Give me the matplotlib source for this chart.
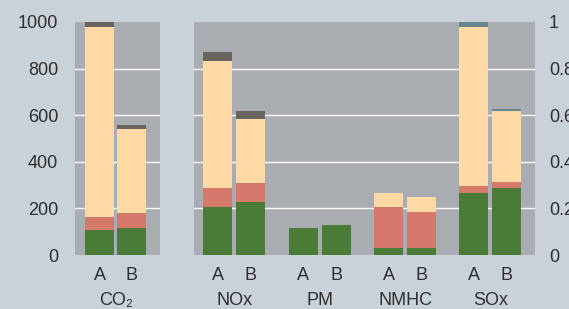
import matplotlib
matplotlib.use("Agg")
import matplotlib.pyplot as plt
import numpy as np

categories = ["CO₂", "NOx", "PM", "NMHC", "SOx"]
variants = ["A", "B"]
# segments per bar, order: CO2 A,B, NOx A,B, PM A,B, NMHC A,B, SOx A,B
green = [107, 115, 207, 229, 117, 129, 29, 29, 267, 289]
red = [56, 64, 82, 81, 0, 0, 178, 157, 30, 26]
beige = [817, 360, 545, 272, 0, 0, 60, 64, 683, 303]
top = [20, 19, 39, 37, 0, 0, 0, 0, 20, 9]
left_ticks = [0, 200, 400, 600, 800, 1000]
right_ticks = [0, 0.2, 0.4, 0.6, 0.8, 1]
right_labels = ["0", "0.2", "0.4", "0.6", "0.8", "1"]

BG = "#c9d1d9"
PANEL = "#a9adb1"
C_GREEN = "#4a7b37"
C_RED = "#d4796b"
C_BEIGE = "#fdd9a5"
C_DARK = "#68645d"
C_BLUE = "#668690"
TXT = "#2e2e2e"
top_colors = [C_DARK, C_DARK, C_DARK, C_DARK, C_DARK, C_DARK, C_DARK, C_DARK, C_BLUE, C_BLUE]

plt.rcParams["font.family"] = ["Liberation Sans", "DejaVu Sans"]
FS = 13

W, H = 569, 309
fig = plt.figure(figsize=(W / 100, H / 100), dpi=100)
fig.patch.set_facecolor(BG)

def px_axes(x0, x1, y0, y1):
    return fig.add_axes([x0 / W, 1 - y1 / H, (x1 - x0) / W, (y1 - y0) / H])

ax1 = px_axes(75, 160, 22, 255)
ax2 = px_axes(194, 535, 22, 255)

step = 33.0
width = 29 / step

def draw(ax, idxs, positions):
    g = np.array([green[i] for i in idxs])
    r = np.array([red[i] for i in idxs])
    b = np.array([beige[i] for i in idxs])
    t = np.array([top[i] for i in idxs])
    tc = [top_colors[i] for i in idxs]
    ax.bar(positions, g, width=width, color=C_GREEN, zorder=3, linewidth=0)
    ax.bar(positions, r, bottom=g, width=width, color=C_RED, zorder=3, linewidth=0)
    ax.bar(positions, b, bottom=g + r, width=width, color=C_BEIGE, zorder=3, linewidth=0)
    ax.bar(positions, t, bottom=g + r + b, width=width, color=tc, zorder=3, linewidth=0)
    ax.set_facecolor(PANEL)
    ax.set_ylim(0, 1000)
    ax.set_yticks([200, 400, 600, 800])
    ax.grid(axis="y", color="white", linewidth=1.0, zorder=1)
    ax.set_axisbelow(True)
    for s in ax.spines.values():
        s.set_visible(False)
    ax.tick_params(length=0, labelsize=FS, labelcolor=TXT)
    ax.tick_params(axis="x", pad=9)
    ax.set_xticks(positions)
    ax.set_xticklabels(variants * (len(positions) // 2))

# panel 1: CO2
pos1 = np.array([0, 0.985])
draw(ax1, [0, 1], pos1)
ax1.set_xlim(-0.742, -0.742 + 85 / step)
ax1.set_yticks(left_ticks)
ax1.set_yticklabels([str(v) for v in left_ticks])
ax1.tick_params(axis="y", pad=12)
for gl, v in zip(ax1.get_ygridlines(), left_ticks):
    if v in (0, 1000):
        gl.set_visible(False)
ax1.annotate(categories[0], xy=(pos1.mean(), 0), xycoords=("data", "axes fraction"),
             xytext=(0, -32.5), textcoords="offset points", ha="center", va="center",
             fontsize=FS, color=TXT)

# panel 2: others
gstep = 85.3 / step
pos2 = []
for gi in range(4):
    pos2 += [gi * gstep, gi * gstep + 1]
pos2 = np.array(pos2)
draw(ax2, list(range(2, 10)), pos2)
ax2.set_xlim(-0.727, -0.727 + 341 / step)
ax2.set_yticklabels([])
for gi in range(4):
    ax2.annotate(categories[gi + 1], xy=(gi * gstep + 0.5, 0), xycoords=("data", "axes fraction"),
                 xytext=(0, -32.5), textcoords="offset points", ha="center", va="center",
                 fontsize=FS, color=TXT)

axr = ax2.twinx()
axr.set_ylim(0, 1)
axr.set_yticks(right_ticks)
axr.set_yticklabels(right_labels)
axr.tick_params(length=0, labelsize=FS, labelcolor=TXT, pad=10)
for s in axr.spines.values():
    s.set_visible(False)

fig.savefig("out.png", dpi=100, facecolor=BG)
